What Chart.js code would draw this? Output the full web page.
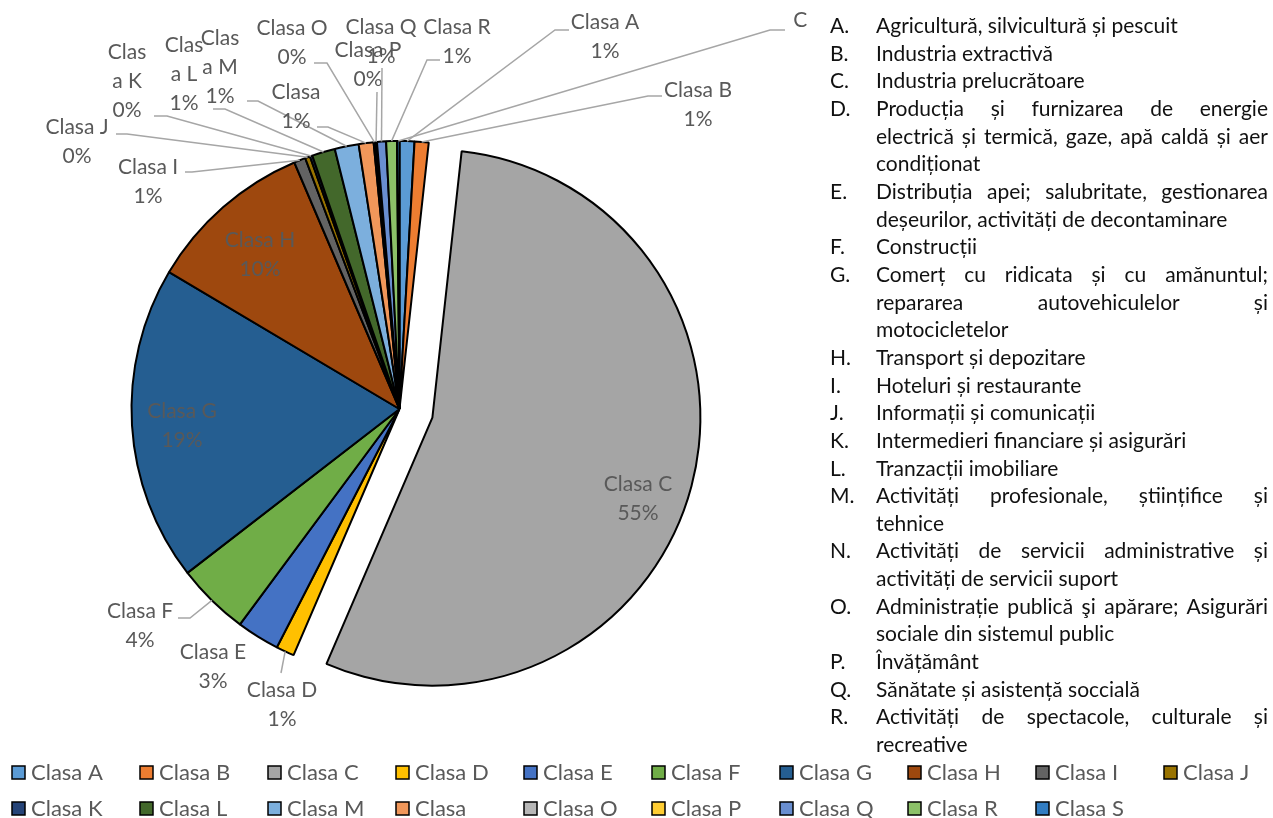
<!DOCTYPE html>
<html>
<head>
<meta charset="utf-8">
<script src="https://cdn.jsdelivr.net/npm/chart.js@4.4.1/dist/chart.umd.min.js"></script>
<style>
  body { margin: 0; background: #fff; }
  #wrap { position: relative; width: 1273px; height: 818px; }
  #notes {
    position: absolute; left: 808px; top: 11px; width: 460px;
    background: #fff; font-family: Lato, sans-serif; font-size: 21px;
    line-height: 27.65px; color: #111;
  }
  .item { display: flex; }
  .item .key { width: 46px; padding-left: 22px; flex: none; }
  .item .txt { flex: 1; }
  .item .ln { text-align: justify; text-align-last: justify; white-space: nowrap; }
  .item .ln.last { text-align: left; text-align-last: left; }
</style>
</head>
<body>
<div id="wrap">
  <canvas id="pieChart" width="1273" height="818"></canvas>
  <div id="notes"></div>
</div>
<script>
const categories = ['Clasa A', 'Clasa B', 'Clasa C', 'Clasa D', 'Clasa E', 'Clasa F', 'Clasa G', 'Clasa H', 'Clasa I', 'Clasa J',
    'Clasa K', 'Clasa L', 'Clasa M', 'Clasa', 'Clasa O', 'Clasa P', 'Clasa Q', 'Clasa R', 'Clasa S'];
const shares = [0.9, 0.85, 55.0, 1.1, 2.6, 4.4, 19.1, 10.1, 0.7, 0.3, 0.15, 1.4, 1.45, 0.9, 0.1, 0.1, 0.55, 0.65, 0.15];
const colors = ['#5B9BD5', '#ED7D31', '#A5A5A5', '#FFC000', '#4472C4', '#70AD47', '#255E91', '#9E480E', '#636363', '#997300',
    '#264478', '#43682B', '#7CAFDD', '#F1975A', '#B7B7B7', '#FFCD33', '#698ED0', '#8CC168', '#327DC2'];

// legenda din dreapta (clasele CAEN)
const noteKeys = ['A.', 'B.', 'C.', 'D.', 'E.', 'F.', 'G.', 'H.', 'I.', 'J.', 'K.', 'L.', 'M.', 'N.', 'O.', 'P.', 'Q.', 'R.'];
const noteLines = [
    ['Agricultură, silvicultură și pescuit'],
    ['Industria extractivă'],
    ['Industria prelucrătoare'],
    ['Producția și furnizarea de energie', 'electrică și termică, gaze, apă caldă și aer', 'condiționat'],
    ['Distribuția apei; salubritate, gestionarea', 'deșeurilor, activități de decontaminare'],
    ['Construcții'],
    ['Comerț cu ridicata și cu amănuntul;', 'repararea autovehiculelor și', 'motocicletelor'],
    ['Transport și depozitare'],
    ['Hoteluri și restaurante'],
    ['Informații și comunicații'],
    ['Intermedieri financiare și asigurări'],
    ['Tranzacții imobiliare'],
    ['Activități profesionale, științifice și', 'tehnice'],
    ['Activități de servicii administrative și', 'activități de servicii suport'],
    ['Administrație publică şi apărare; Asigurări', 'sociale din sistemul public'],
    ['Învățământ'],
    ['Sănătate și asistență soccială'],
    ['Activități de spectacole, culturale și', 'recreative']
];

// unde stau etichetele (x,y = centrul primului rand), cu linia de legatura
const labelLayout = [
    { x: 605, y: 22, elbow: [555, 30], end: [569, 30] },
    { x: 698, y: 90, elbow: [648, 96], end: [662, 96] },
    { x: 638, y: 484 },
    { x: 282, y: 690, elbow: [281, 673] },
    { x: 213, y: 652 },
    { x: 140, y: 611, elbow: [190, 618], end: [178, 618] },
    { x: 182, y: 411 },
    { x: 260, y: 240 },
    { x: 148, y: 167, elbow: [192, 172], end: [185, 172] },
    { x: 77, y: 127, elbow: [127, 134], end: [116, 134] },
    { x: 127, y: 52, wrap: 4, elbow: [167, 116], end: [154, 116] },
    { x: 184, y: 45, wrap: 4, elbow: [225, 109], end: [213, 109] },
    { x: 220, y: 38, wrap: 4, elbow: [258, 101], end: [247, 101] },
    { x: 296, y: 92, elbow: [328, 127], end: [317, 127] },
    { x: 292, y: 28, elbow: [327, 63], end: [314, 63] },
    { x: 368, y: 50, elbow: [377, 92] },
    { x: 381, y: 27, elbow: [382, 68] },
    { x: 457, y: 27, elbow: [427, 60], end: [440, 60] },
    { x: 826, y: 20, elbow: [770, 30], end: [785, 30] }
];

const explodeIndex = 2;
const explodeDistance = 34;
const labelFont = '21px Lato, sans-serif';
const legendFont = '22px Lato, sans-serif';
const textGray = '#595959';

const notes = document.getElementById('notes');
noteKeys.forEach((key, i) => {
    const item = document.createElement('div');
    item.className = 'item';
    const k = document.createElement('div');
    k.className = 'key';
    k.textContent = key;
    const t = document.createElement('div');
    t.className = 'txt';
    noteLines[i].forEach((line, j) => {
        const ln = document.createElement('div');
        ln.className = 'ln' + (j === noteLines[i].length - 1 ? ' last' : '');
        ln.textContent = line;
        t.appendChild(ln);
    });
    item.appendChild(k);
    item.appendChild(t);
    notes.appendChild(item);
});

const explodePlugin = {
    id: 'explode',
    beforeDatasetsDraw(chart) {
        const arc = chart.getDatasetMeta(0).data[explodeIndex];
        if (!arc || arc._exploded) return;
        const baseDraw = arc.draw.bind(arc);
        arc.draw = function (ctx) {
            const mid = (this.startAngle + this.endAngle) / 2;
            ctx.save();
            ctx.translate(Math.cos(mid) * explodeDistance, Math.sin(mid) * explodeDistance);
            baseDraw(ctx);
            ctx.restore();
        };
        arc._exploded = true;
    }
};

const labelPlugin = {
    id: 'sliceLabels',
    afterDatasetsDraw(chart) {
        const ctx = chart.ctx;
        const meta = chart.getDatasetMeta(0);
        const values = chart.data.datasets[0].data;
        const total = values.reduce((a, b) => a + b, 0);
        ctx.save();
        meta.data.forEach((arc, i) => {
            const lay = labelLayout[i];
            if (!lay) return;
            if (lay.elbow) {
                const mid = (arc.startAngle + arc.endAngle) / 2;
                const ax = arc.x + Math.cos(mid) * arc.outerRadius;
                const ay = arc.y + Math.sin(mid) * arc.outerRadius;
                ctx.strokeStyle = '#A6A6A6';
                ctx.lineWidth = 1.5;
                ctx.beginPath();
                ctx.moveTo(ax, ay);
                ctx.lineTo(lay.elbow[0], lay.elbow[1]);
                if (lay.end) ctx.lineTo(lay.end[0], lay.end[1]);
                ctx.stroke();
            }
            const name = chart.data.labels[i];
            const lines = lay.wrap ? [name.slice(0, lay.wrap), name.slice(lay.wrap)] : [name];
            lines.push(Math.round(values[i] / total * 100) + '%');
            ctx.font = labelFont;
            ctx.fillStyle = textGray;
            ctx.textAlign = 'center';
            ctx.textBaseline = 'middle';
            lines.forEach((t, j) => ctx.fillText(t, lay.x, lay.y + j * 29));
        });
        ctx.restore();
    }
};

const legendPlugin = {
    id: 'bottomLegend',
    afterDraw(chart) {
        const ctx = chart.ctx;
        const bg = chart.data.datasets[0].backgroundColor;
        ctx.save();
        ctx.font = legendFont;
        ctx.textBaseline = 'middle';
        ctx.textAlign = 'left';
        chart.data.labels.forEach((name, i) => {
            const col = i % 10;
            const row = Math.floor(i / 10);
            const x = 12 + col * 128;
            const y = 772 + row * 36;
            ctx.fillStyle = bg[i];
            ctx.fillRect(x, y - 6, 13, 13);
            ctx.strokeStyle = '#000';
            ctx.lineWidth = 1.5;
            ctx.strokeRect(x, y - 6, 13, 13);
            ctx.fillStyle = textGray;
            ctx.fillText(name, x + 19, y + 1);
        });
        ctx.restore();
    }
};

const pieCtx = document.getElementById('pieChart').getContext('2d');
const pieChart = new Chart(pieCtx, {
    type: 'pie',
    data: {
        labels: categories,
        datasets: [{
            data: shares,
            backgroundColor: colors,
            borderColor: '#000',
            borderWidth: 2
        }]
    },
    options: {
        responsive: false,
        animation: false,
        radius: 268,
        layout: { padding: { left: 0, right: 474, top: 0, bottom: 0 } },
        plugins: {
            legend: { display: false },
            tooltip: { enabled: false }
        }
    },
    plugins: [explodePlugin, labelPlugin, legendPlugin]
});
</script>
</body>
</html>
